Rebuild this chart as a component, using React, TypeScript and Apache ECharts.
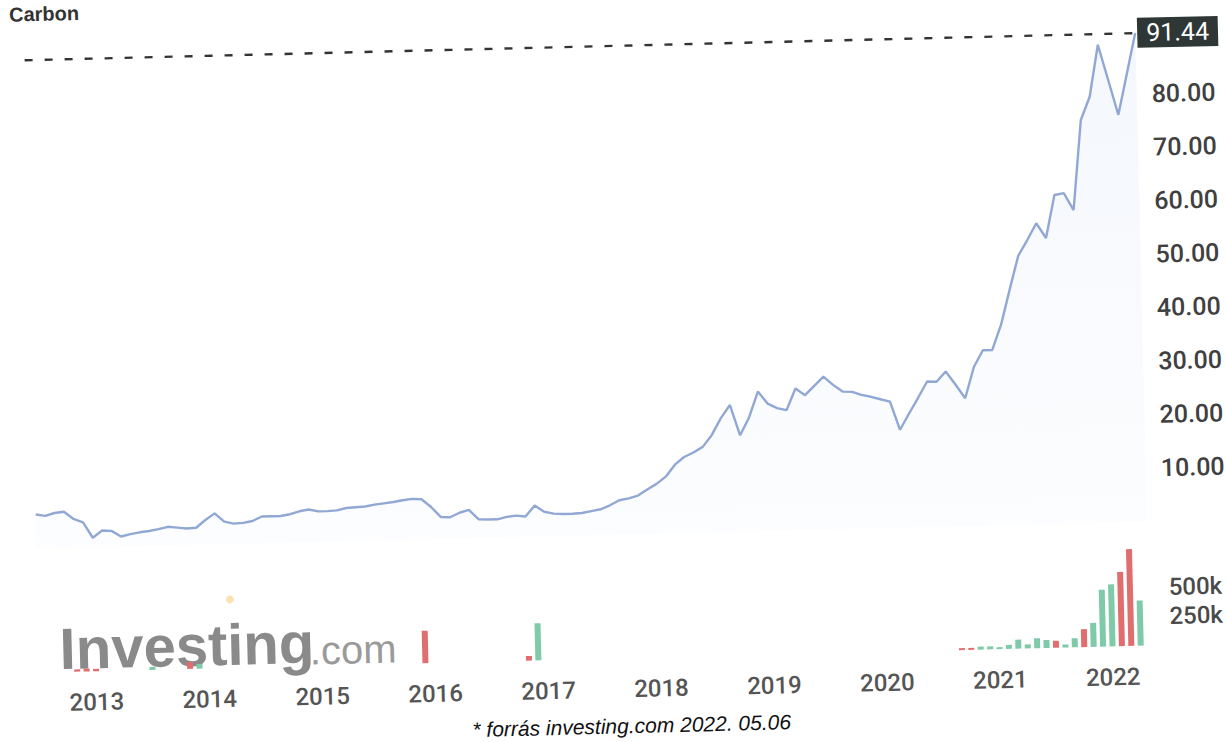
import React, { useEffect, useRef } from "react";
import * as echarts from "echarts";

// ---- data (monthly, Jul 2012 – May 2022) ----
const START_YEAR = 2012;
const START_MONTH = 7;

const prices: number[] = [
  6.4, 6.1, 6.6, 6.8, 5.4, 4.7,
  1.8, 3.1, 3.0, 1.9, 2.3, 2.6, 2.8, 3.1, 3.5, 3.3, 3.1, 3.2,
  4.6, 5.8, 4.2, 3.8, 3.9, 4.2, 5.0, 5.0, 5.0, 5.3, 5.8, 6.1,
  5.7, 5.7, 5.8, 6.2, 6.3, 6.4, 6.7, 6.9, 7.1, 7.4, 7.6, 7.5,
  6.0, 4.1, 4.0, 4.8, 5.3, 3.5, 3.4, 3.4, 3.8, 4.0, 3.8, 5.8,
  4.6, 4.2, 4.1, 4.1, 4.2, 4.5, 4.8, 5.5, 6.4, 6.7, 7.2, 8.3,
  9.3, 10.6, 12.8, 14.2, 15.0, 16.0, 18.2, 21.3, 23.7, 18.0, 21.3, 26.1,
  23.8, 22.9, 22.5, 26.5, 25.2, 26.9, 28.6, 27.0, 25.7, 25.6, 25.0, 24.6,
  24.1, 23.6, 18.3, 21.3, 24.2, 27.2, 27.1, 29.0, 26.5, 23.9, 29.7, 32.8,
  32.8, 37.5, 44.0, 50.3, 53.2, 56.3, 53.5, 61.5, 61.8, 58.6, 75.4, 79.7,
  89.4, 82.8, 76.2, 83.8, 91.44,
];

const volumeMonths: string[] = [
  "2012-11", "2012-12", "2013-01", "2013-07", "2013-11", "2013-12",
  "2015-12", "2016-11", "2016-12",
  "2020-09", "2020-10", "2020-11", "2020-12", "2021-01", "2021-02", "2021-03",
  "2021-04", "2021-05", "2021-06", "2021-07", "2021-08", "2021-09", "2021-10",
  "2021-11", "2021-12", "2022-01", "2022-02", "2022-03", "2022-04",
];
const volumeValues: number[] = [
  20000, 25000, 20000, 25000, 60000, 40000,
  280000, 40000, 320000,
  17000, 17000, 26000, 26000, 17000, 35000, 78000,
  35000, 86000, 69000, 60000, 26000, 78000, 155000,
  207000, 490000, 535000, 640000, 835000, 390000,
];

const priceTicks: number[] = [10, 20, 30, 40, 50, 60, 70, 80];
const volumeTicks: number[] = [250000, 500000];
const lastPrice = 91.44;
const titleText = "Carbon";
const footnoteText = "* forrás investing.com 2022. 05.06";

const months: string[] = prices.map((_, i) => {
  const t = START_MONTH - 1 + i;
  const y = START_YEAR + Math.floor(t / 12);
  const m = (t % 12) + 1;
  return `${y}-${String(m).padStart(2, "0")}`;
});

const UP = "#7fcaa8";
const DOWN = "#e06e6e";

export default function App() {
  const ref = useRef<HTMLDivElement>(null);

  useEffect(() => {
    if (!ref.current) return;
    const chart = echarts.init(ref.current, undefined, { renderer: "svg" });

    const volumeData = months.map((m, i) => {
      const k = volumeMonths.indexOf(m);
      if (k < 0) return "-";
      const up = i === 0 || prices[i] >= prices[i - 1];
      return { value: volumeValues[k], itemStyle: { color: up ? UP : DOWN } };
    });

    const font = "Roboto, 'Liberation Sans', Arial, sans-serif";

    chart.setOption({
      animation: false,
      backgroundColor: "#ffffff",
      textStyle: { fontFamily: font },
      grid: [
        { left: 72.4, right: 122.7, top: 40, height: 534.6 },
        { left: 72.4, right: 122.7, top: 582.5, height: 116 },
      ],
      xAxis: [
        {
          type: "category",
          gridIndex: 0,
          data: months,
          boundaryGap: false,
          axisLine: { show: false },
          axisTick: { show: false },
          axisLabel: { show: false },
          splitLine: { show: false },
        },
        {
          type: "category",
          gridIndex: 1,
          data: months,
          boundaryGap: false,
          axisLine: { show: false },
          axisTick: { show: false },
          splitLine: { show: false },
          axisLabel: {
            interval: (_i: number, v: string) => v.endsWith("-01"),
            formatter: (v: string) => v.slice(0, 4),
            fontSize: 24,
            color: "#555555",
            fontWeight: 500,
            margin: 19,
            fontFamily: font,
          },
        },
      ],
      yAxis: [
        {
          type: "value",
          gridIndex: 0,
          position: "right",
          min: 0,
          max: 100,
          interval: 10,
          axisLine: { show: false },
          axisTick: { show: false },
          splitLine: { show: false },
          axisLabel: {
            margin: 15,
            fontSize: 25,
            fontWeight: 500,
            color: "#404040",
            fontFamily: font,
            formatter: (v: number) => (priceTicks.includes(v) ? v.toFixed(2) : ""),
          },
        },
        {
          type: "value",
          gridIndex: 1,
          position: "right",
          min: 0,
          max: 1000000,
          interval: 250000,
          axisLine: { show: false },
          axisTick: { show: false },
          splitLine: { show: false },
          axisLabel: {
            margin: 20,
            fontSize: 24,
            fontWeight: 500,
            color: "#4a4a4a",
            fontFamily: font,
            formatter: (v: number) => (volumeTicks.includes(v) ? `${v / 1000}k` : ""),
          },
        },
      ],
      series: [
        {
          type: "line",
          xAxisIndex: 0,
          yAxisIndex: 0,
          data: prices,
          showSymbol: false,
          smooth: false,
          lineStyle: { color: "#91a8d4", width: 2.4 },
          areaStyle: {
            color: new echarts.graphic.LinearGradient(0, 0, 0, 1, [
              { offset: 0, color: "rgba(175,198,236,0.2)" },
              { offset: 1, color: "rgba(175,198,236,0.05)" },
            ]),
          },
          z: 3,
          markLine: {
            silent: true,
            symbol: ["none", "none"],
            data: [{ yAxis: lastPrice }],
            lineStyle: { type: [8, 12], color: "#333333", width: 2.4 },
            label: {
              position: "end",
              formatter: () => lastPrice.toFixed(2),
              backgroundColor: "#2e3735",
              color: "#ffffff",
              fontSize: 25,
              fontFamily: font,
              padding: [3, 9, 2, 9],
              distance: 2,
            },
          },
        },
        {
          type: "bar",
          xAxisIndex: 1,
          yAxisIndex: 1,
          data: volumeData,
          barWidth: 6,
          z: 3,
        },
      ],
      graphic: [
        {
          type: "text",
          x: 58,
          y: 50,
          style: {
            text: titleText,
            fontSize: 20,
            fontWeight: "bold",
            fill: "#333333",
            fontFamily: "'Liberation Sans', Arial, sans-serif",
            textVerticalAlign: "bottom",
          },
          z: 0,
        },
        {
          type: "text",
          x: 93,
          y: 675,
          style: {
            text: "Investing",
            fontSize: 58,
            fontWeight: "bold",
            fill: "#8a8a8a",
            fontFamily: "'Liberation Sans', Arial, sans-serif",
            textVerticalAlign: "middle",
          },
          z: 0,
        },
        {
          type: "text",
          x: 343,
          y: 683,
          style: {
            text: ".com",
            fontSize: 40,
            fill: "#9a9a9a",
            fontFamily: "'Liberation Sans', Arial, sans-serif",
            textVerticalAlign: "middle",
          },
          z: 0,
        },
        {
          type: "circle",
          shape: { cx: 264.5, cy: 630, r: 4 },
          style: { fill: "rgba(246,190,80,0.45)" },
          z: 0,
        },
        {
          type: "text",
          x: 663,
          y: 766,
          style: {
            text: footnoteText,
            fontSize: 21,
            fontStyle: "italic",
            fill: "#111111",
            fontFamily: "'Liberation Sans', Arial, sans-serif",
            textAlign: "center",
            textVerticalAlign: "middle",
          },
          z: 0,
        },
      ],
    });

    return () => chart.dispose();
  }, []);

  return (
    <div
      style={{
        position: "fixed",
        left: 0,
        top: 0,
        width: 1226,
        height: 742,
        overflow: "hidden",
        background: "#ffffff",
      }}
    >
      <div
        ref={ref}
        style={{
          position: "absolute",
          left: -40,
          top: -40,
          width: 1306,
          height: 822,
          transform: "rotate(-1.4deg)",
          transformOrigin: "50% 50%",
        }}
      />
    </div>
  );
}
